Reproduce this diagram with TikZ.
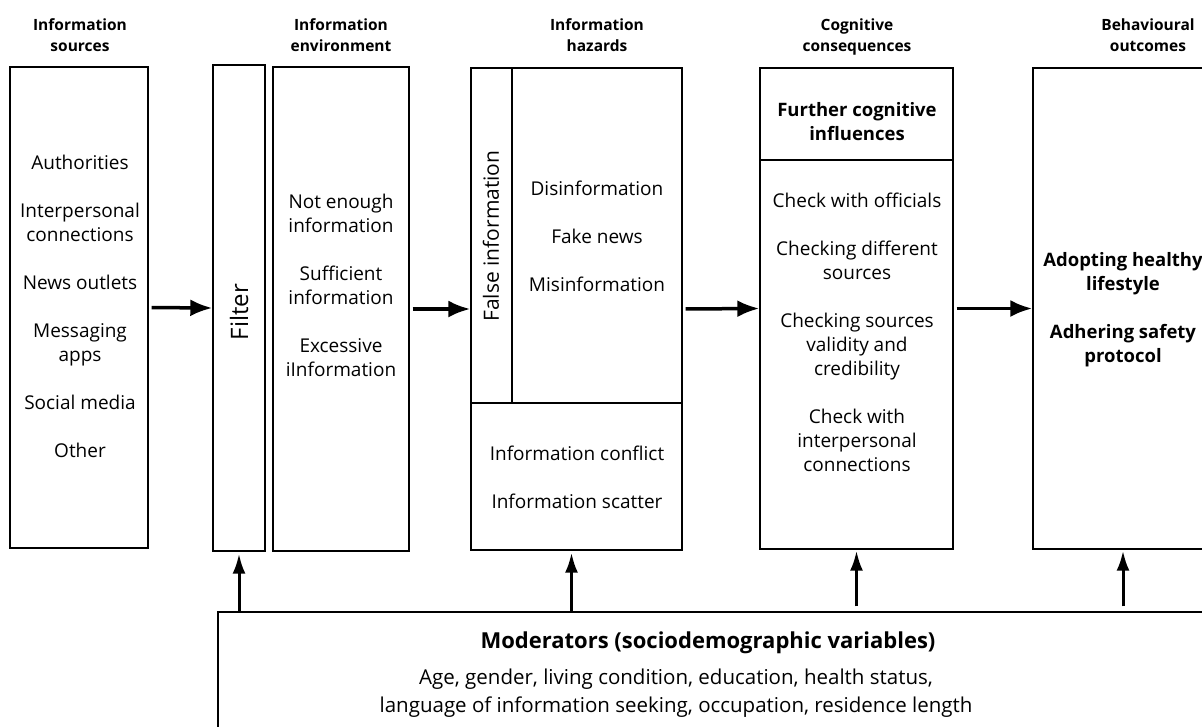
\documentclass[tikz,border=0pt]{standalone}
\usepackage{fontspec}
\setmainfont{Open Sans}
\usetikzlibrary{arrows.meta}
\tikzset{
  box/.style={draw, line width=1.4pt, minimum width=#1, inner sep=0pt},
  title/.style={font=\fontsize{15.5}{21}\selectfont\bfseries, align=center},
  body/.style={font=\fontsize{19}{24}\selectfont, align=center},
  bold/.style={font=\fontsize{18.5}{24}\selectfont\bfseries, align=center},
  flow/.style={line width=3.5pt, -{Latex[length=22pt,width=17pt]}, shorten <=3pt},
  lift/.style={line width=3pt, -{Latex[length=20pt,width=13pt]}}
}

\begin{document}
\begin{tikzpicture}[x=1pt,y=-1pt]
  \useasboundingbox (0,0) rectangle (1202,726);
  \clip (0,0) rectangle (1202,726);

  % Titles
  \node[title] (tSrc) at (80,35) {Information\\sources};
  \node[title] (tEnv) at (341,35) {Information\\environment};
  \node[title] (tHaz) at (597,35) {Information\\hazards};
  \node[title] (tCog) at (857,37) {Cognitive\\consequences};
  \node[title] (tBeh) at (1148,35) {Behavioural\\outcomes};

  % Information sources
  \node[box=138pt, minimum height=481pt] (src) at (79,307.5) {};
  \node[body] (srcList) at (80,306) {Authorities\\[24pt]Interpersonal\\connections\\[24pt]News outlets\\[24pt]Messaging\\apps\\[24pt]Social media\\[24pt]Other};

  % Filter
  \node[box=52pt, minimum height=486pt] (filter) at (239,308) {};
  \node[body, font=\fontsize{24}{28}\selectfont, rotate=90] (filterText) at (239,312) {Filter};

  % Information environment
  \node[box=136pt, minimum height=484pt] (env) at (341,309) {};
  \node[body] (envList) at (341,285) {Not enough\\information\\[24pt]Sufficient\\information\\[24pt]Excessive\\iInformation};

  % Information hazards
  \node[box=211pt, minimum height=482pt] (haz) at (576.5,309) {};
  \draw[line width=1.4pt] (512,68) -- (512,403);
  \draw[line width=1.4pt] (471,403) -- (682,403);
  \node[body, font=\fontsize{21}{24}\selectfont, rotate=90] (falseInfo) at (491,236) {False information};
  \node[body] (hazList) at (597,236) {Disinformation\\[24pt]Fake news\\[24pt]Misinformation};
  \node[body] (hazLower) at (577,477) {Information conflict\\[24pt]Information scatter};

  % Cognitive consequences
  \node[box=193pt, minimum height=481pt] (cog) at (856.5,308.5) {};
  \draw[line width=1.4pt] (760,160) -- (953,160);
  \node[bold] (cogHead) at (857,122) {Further cognitive\\influences};
  \node[body] (cogList) at (857,332) {Check with officials\\[24pt]Checking different\\sources\\[24pt]Checking sources\\validity and\\credibility\\[24pt]Check with\\interpersonal\\connections};

  % Behavioural outcomes
  \node[box=180pt, minimum height=481pt] (beh) at (1123,308.5) {};
  \node[bold] (behList) at (1123,310) {Adopting healthy\\lifestyle\\[24pt]Adhering safety\\protocol};

  % Moderators
  \node[box=990pt, minimum height=150pt] (mod) at (713,687) {};
  \node[bold, font=\fontsize{22}{28}\selectfont\bfseries] (modHead) at (708,643) {Moderators (sociodemographic variables)};
  \node[body, font=\fontsize{20.5}{28}\selectfont] (modList) at (676,693) {Age, gender, living condition, education, health status,\\language of information seeking, occupation, residence length};

  % Flow arrows
  \draw[flow] (src.east) -- (filter.west);
  \draw[flow] (env.east) -- (haz.west);
  \draw[flow] (haz.east) -- (cog.west);
  \draw[flow] (cog.east) -- (beh.west);

  % Moderator arrows
  \draw[lift] (filter.south |- mod.north) -- ([yshift=-2pt]filter.south);
  \draw[lift] ([xshift=-5pt]haz.south |- mod.north) -- ([xshift=-5pt, yshift=-2pt]haz.south);
  \draw[lift, shorten <=5pt] (cog.south |- mod.north) -- ([yshift=-1pt]cog.south);
  \draw[lift, shorten <=5pt] (beh.south |- mod.north) -- ([yshift=-1pt]beh.south);
\end{tikzpicture}
\end{document}
